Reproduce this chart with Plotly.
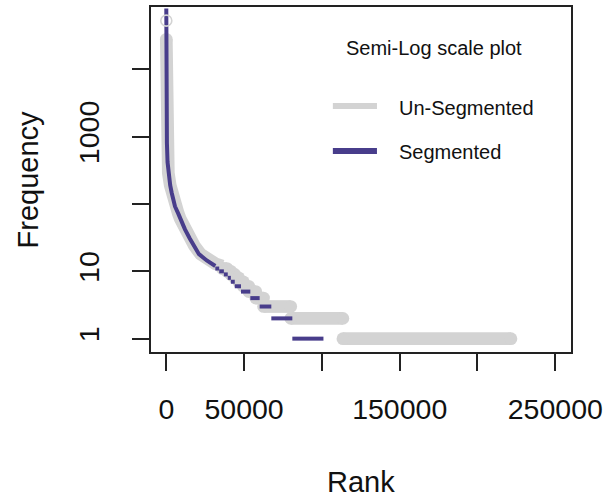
import plotly.graph_objects as go

# ---------------- data ----------------
# Segmented (blue) rank-frequency: continuous head, then integer-frequency plateaus
seg_head_rank = [1, 30, 150, 400, 800, 1300, 2500, 3500, 5600, 7700, 9000, 12000, 15000, 17500, 21000, 26000, 29000, 31500]
seg_head_freq = [80000, 12000, 2500, 800, 420, 290, 190, 146, 92, 72, 60, 42, 31, 24, 18, 14.5, 13, 12]
seg_level_freq = [11, 10, 9, 8, 7, 6, 5, 4, 3, 2, 1]
seg_level_start = [31500, 34000, 37000, 39500, 41500, 44000, 48000, 54000, 60000, 67500, 81000]
seg_level_end = [34000, 37000, 39500, 41500, 44000, 48000, 54000, 60000, 67500, 81000, 101000]

# Un-Segmented (gray)
uns_top_rank = [1]
uns_top_freq = [53000]
uns_head_rank = [2, 30, 150, 400, 800, 1300, 2500, 3500, 5600, 7700, 9000, 12000, 15500, 18000, 22000, 27500, 31500, 36000]
uns_head_freq = [28000, 12000, 2500, 800, 420, 290, 190, 146, 92, 72, 60, 42, 31, 24, 18, 14.5, 13, 12]
uns_level_freq = [11, 10, 9, 8, 7, 6, 5, 4, 3, 2, 1]
uns_level_start = [36000, 39000, 41500, 44000, 46500, 49500, 53000, 57500, 62500, 80000, 113500]
uns_level_end = [39000, 41500, 44000, 46500, 49500, 53000, 57500, 62500, 80000, 113500, 221500]

x_tick_vals = [0, 50000, 100000, 150000, 200000, 250000]
x_tick_text = ["0", "50000", "", "150000", "", "250000"]
y_tick_vals = [1, 10, 100, 1000, 10000]
y_tick_text = ["1", "10", "", "1000", ""]

GRAY = "#D3D3D3"
BLUE = "#483D8B"
FONT = "Liberation Sans, Arial, sans-serif"


def build(head_r, head_f, lv_f, lv_s, lv_e):
    xs = list(head_r) + [None]
    ys = list(head_f) + [None]
    cx, cy = [head_r[0]], [head_f[0]]
    for f, s, e in zip(lv_f, lv_s, lv_e):
        xs += [s, e, None]
        ys += [f, f, None]
        cx += [s, e]
        cy += [f, f]
    return xs, ys, cx, cy


ux, uy, ucx, ucy = build(uns_head_rank, uns_head_freq, uns_level_freq, uns_level_start, uns_level_end)
sx, sy, _, _ = build(seg_head_rank, seg_head_freq, seg_level_freq, seg_level_start, seg_level_end)

fig = go.Figure()
fig.add_trace(go.Scatter(x=ux, y=uy, mode="lines", line=dict(color=GRAY, width=12.7),
                         connectgaps=False, showlegend=False, hoverinfo="skip"))
fig.add_trace(go.Scatter(x=ucx, y=ucy, mode="markers",
                         marker=dict(color=GRAY, size=12.7, line=dict(width=0)),
                         showlegend=False, hoverinfo="skip"))
fig.add_trace(go.Scatter(x=sx, y=sy, mode="lines", line=dict(color=BLUE, width=4),
                         connectgaps=False, showlegend=False, hoverinfo="skip"))
fig.add_trace(go.Scatter(x=uns_top_rank, y=uns_top_freq, mode="markers",
                         marker=dict(symbol="circle-open", color=GRAY, size=11, line=dict(width=1.6, color=GRAY)),
                         showlegend=False, hoverinfo="skip"))

# legend drawn by hand (R-style legend without border)
fig.add_shape(type="line", xref="paper", yref="paper", x0=0.433, x1=0.538, y0=0.7127, y1=0.7127,
              line=dict(color=GRAY, width=6))
fig.add_shape(type="line", xref="paper", yref="paper", x0=0.433, x1=0.538, y0=0.5825, y1=0.5825,
              line=dict(color=BLUE, width=6))
fig.add_annotation(text="Semi-Log scale plot", xref="paper", yref="paper", x=0.674, y=0.880,
                   xanchor="center", yanchor="middle", showarrow=False,
                   font=dict(family=FONT, size=20, color="#111"))
fig.add_annotation(text="Un-Segmented", xref="paper", yref="paper", x=0.585, y=0.706,
                   xanchor="left", yanchor="middle", showarrow=False,
                   font=dict(family=FONT, size=20, color="#111"))
fig.add_annotation(text="Segmented", xref="paper", yref="paper", x=0.585, y=0.580,
                   xanchor="left", yanchor="middle", showarrow=False,
                   font=dict(family=FONT, size=20, color="#111"))

# axis titles
fig.add_annotation(text="Rank", xref="paper", yref="paper", x=0.5, y=-0.378,
                   xanchor="center", yanchor="middle", showarrow=False,
                   font=dict(family=FONT, size=29, color="#111"))
fig.add_annotation(text="Frequency", xref="paper", yref="paper", x=-0.293, y=0.5,
                   xanchor="center", yanchor="middle", showarrow=False, textangle=-90,
                   font=dict(family=FONT, size=29, color="#111"))

fig.update_layout(
    width=608, height=498,
    margin=dict(l=151, r=37, t=7, b=146, autoexpand=False),
    paper_bgcolor="white", plot_bgcolor="white",
    font=dict(family=FONT, size=28.5, color="#111"),
    showlegend=False,
)
fig.update_xaxes(range=[-9830, 260100], tickvals=x_tick_vals, ticktext=x_tick_text,
                 showgrid=False, zeroline=False, showline=True, mirror=True, automargin=False,
                 linecolor="#222", linewidth=1.6, ticks="outside", ticklen=17, tickwidth=1.6,
                 tickcolor="#222", ticklabelstandoff=14, tickfont=dict(size=28.5))
fig.update_yaxes(type="log", range=[-0.1985, 4.927], tickvals=y_tick_vals, ticktext=y_tick_text,
                 showgrid=False, zeroline=False, showline=True, mirror=True, automargin=False,
                 linecolor="#222", linewidth=1.6, ticks="outside", ticklen=17, tickwidth=1.6,
                 tickcolor="#222", tickangle=-90, ticklabelstandoff=22, tickfont=dict(size=28.5))

fig.write_html("out.html", config={"displayModeBar": False},
               post_script="document.body.style.margin='0';document.body.style.padding='0';")
